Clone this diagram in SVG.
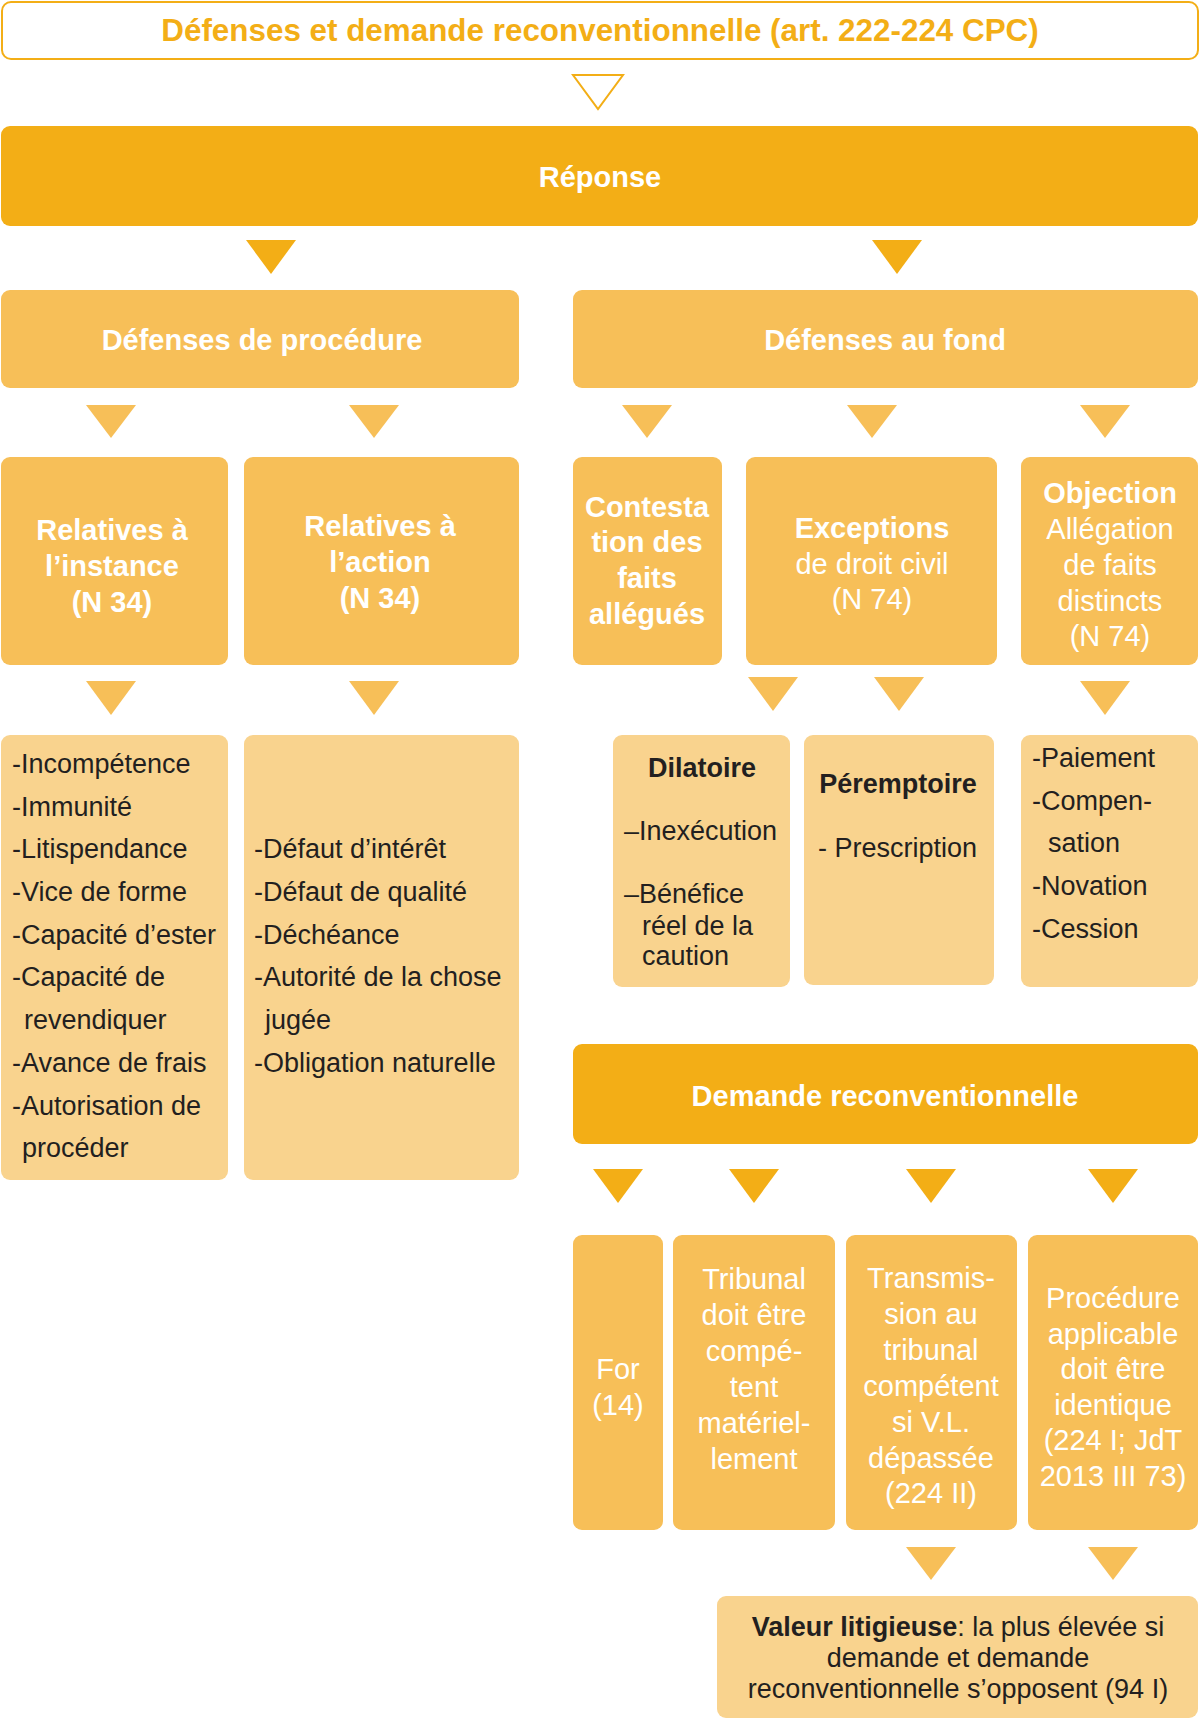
<svg xmlns="http://www.w3.org/2000/svg" width="1200" height="1720" viewBox="0 0 1200 1720">
<style>
text{font-family:"Liberation Sans",Arial,Helvetica,sans-serif}
.dark{fill:#F3AE16}
.mid{fill:#F7BF58}
.light{fill:#F9D38E}
.tdark{fill:#F3AE16}
.tmid{fill:#F7BF58}
.w{fill:#FFFFFF;font-size:29px;text-anchor:middle}
.b{font-weight:bold}
.k{fill:#231F20;font-size:27px}
.c{text-anchor:middle}
</style>
<rect width="1200" height="1720" fill="#FFFFFF"/>
<g id="connectors">
<polygon points="573,75 623,75 598,109" fill="#FFFFFF" stroke="#F3AE16" stroke-width="2"/>
<polygon class="tdark" points="246,240 296,240 271,274"/>
<polygon class="tdark" points="872,240 922,240 897,274"/>
<polygon class="tmid" points="86,405 136,405 111,438"/>
<polygon class="tmid" points="349,405 399,405 374,438"/>
<polygon class="tmid" points="622,405 672,405 647,438"/>
<polygon class="tmid" points="847,405 897,405 872,438"/>
<polygon class="tmid" points="1080,405 1130,405 1105,438"/>
<polygon class="tmid" points="86,681 136,681 111,715"/>
<polygon class="tmid" points="349,681 399,681 374,715"/>
<polygon class="tmid" points="748,677 798,677 773,711"/>
<polygon class="tmid" points="874,677 924,677 899,711"/>
<polygon class="tmid" points="1080,681 1130,681 1105,715"/>
<polygon class="tdark" points="593,1169 643,1169 618,1203"/>
<polygon class="tdark" points="729,1169 779,1169 754,1203"/>
<polygon class="tdark" points="906,1169 956,1169 931,1203"/>
<polygon class="tdark" points="1088,1169 1138,1169 1113,1203"/>
<polygon class="tmid" points="906,1547 956,1547 931,1580"/>
<polygon class="tmid" points="1088,1547 1138,1547 1113,1580"/>
</g>
<g id="title">
<rect x="2" y="2" width="1196" height="57" rx="9" fill="#FFFFFF" stroke="#F3AE16" stroke-width="2"/>
<text x="600" y="41" text-anchor="middle" font-size="31.4" font-weight="bold" fill="#F3AE16">Défenses et demande reconventionnelle (art. 222-224 CPC)</text>
</g>
<g id="reponse">
<rect class="dark" x="1" y="126" width="1197" height="100" rx="9"/>
<text class="w b" x="600" y="187">Réponse</text>
</g>
<g id="defenses-procedure">
<rect class="mid" x="1" y="290" width="518" height="98" rx="9"/>
<text class="w b" x="262" y="350">Défenses de procédure</text>
</g>
<g id="defenses-fond">
<rect class="mid" x="573" y="290" width="625" height="98" rx="9"/>
<text class="w b" x="885" y="350">Défenses au fond</text>
</g>
<g id="relatives-instance">
<rect class="mid" x="1" y="457" width="227" height="208" rx="9"/>
<text class="w b" x="112" y="540">Relatives à</text>
<text class="w b" x="112" y="576">l’instance</text>
<text class="w b" x="112" y="612">(N 34)</text>
</g>
<g id="relatives-action">
<rect class="mid" x="244" y="457" width="275" height="208" rx="9"/>
<text class="w b" x="380" y="536">Relatives à</text>
<text class="w b" x="380" y="572">l’action</text>
<text class="w b" x="380" y="608">(N 34)</text>
</g>
<g id="contestation">
<rect class="mid" x="573" y="457" width="149" height="208" rx="9"/>
<text class="w b" x="647" y="517">Contesta</text>
<text class="w b" x="647" y="552">tion des</text>
<text class="w b" x="647" y="588">faits</text>
<text class="w b" x="647" y="624">allégués</text>
</g>
<g id="exceptions">
<rect class="mid" x="746" y="457" width="251" height="208" rx="9"/>
<text class="w b" x="872" y="538">Exceptions</text>
<text class="w" x="872" y="574">de droit civil</text>
<text class="w" x="872" y="609">(N 74)</text>
</g>
<g id="objection">
<rect class="mid" x="1021" y="457" width="177" height="208" rx="9"/>
<text class="w b" x="1110" y="503">Objection</text>
<text class="w" x="1110" y="539">Allégation</text>
<text class="w" x="1110" y="575">de faits</text>
<text class="w" x="1110" y="611">distincts</text>
<text class="w" x="1110" y="646">(N 74)</text>
</g>
<g id="liste-instance">
<rect class="light" x="1" y="735" width="227" height="445" rx="9"/>
<text class="k" x="12" y="773">-Incompétence</text>
<text class="k" x="12" y="816">-Immunité</text>
<text class="k" x="12" y="858">-Litispendance</text>
<text class="k" x="12" y="901">-Vice de forme</text>
<text class="k" x="12" y="944">-Capacité d’ester</text>
<text class="k" x="12" y="986">-Capacité de</text>
<text class="k" x="24" y="1029">revendiquer</text>
<text class="k" x="12" y="1072">-Avance de frais</text>
<text class="k" x="12" y="1115">-Autorisation de</text>
<text class="k" x="22" y="1157">procéder</text>
</g>
<g id="liste-action">
<rect class="light" x="244" y="735" width="275" height="445" rx="9"/>
<text class="k" x="254" y="858">-Défaut d’intérêt</text>
<text class="k" x="254" y="901">-Défaut de qualité</text>
<text class="k" x="254" y="944">-Déchéance</text>
<text class="k" x="254" y="986">-Autorité de la chose</text>
<text class="k" x="265" y="1029">jugée</text>
<text class="k" x="254" y="1072">-Obligation naturelle</text>
</g>
<g id="dilatoire">
<rect class="light" x="613" y="735" width="177" height="252" rx="9"/>
<text class="k b c" x="702" y="777">Dilatoire</text>
<text class="k" x="624" y="840">–Inexécution</text>
<text class="k" x="624" y="903">–Bénéfice</text>
<text class="k" x="642" y="935">réel de la</text>
<text class="k" x="642" y="965">caution</text>
</g>
<g id="peremptoire">
<rect class="light" x="804" y="735" width="190" height="250" rx="9"/>
<text class="k b c" x="898" y="793">Péremptoire</text>
<text class="k" x="818" y="857">- Prescription</text>
</g>
<g id="liste-objection">
<rect class="light" x="1021" y="735" width="177" height="252" rx="9"/>
<text class="k" x="1032" y="767">-Paiement</text>
<text class="k" x="1032" y="810">-Compen-</text>
<text class="k" x="1048" y="852">sation</text>
<text class="k" x="1032" y="895">-Novation</text>
<text class="k" x="1032" y="938">-Cession</text>
</g>
<g id="demande-reconventionnelle">
<rect class="dark" x="573" y="1044" width="625" height="100" rx="9"/>
<text class="w b" x="885" y="1106">Demande reconventionnelle</text>
</g>
<g id="for">
<rect class="mid" x="573" y="1235" width="90" height="295" rx="9"/>
<text class="w" x="618" y="1379">For</text>
<text class="w" x="618" y="1415">(14)</text>
</g>
<g id="tribunal">
<rect class="mid" x="673" y="1235" width="162" height="295" rx="9"/>
<text class="w" x="754" y="1289">Tribunal</text>
<text class="w" x="754" y="1325">doit être</text>
<text class="w" x="754" y="1361">compé-</text>
<text class="w" x="754" y="1397">tent</text>
<text class="w" x="754" y="1433">matériel-</text>
<text class="w" x="754" y="1469">lement</text>
</g>
<g id="transmission">
<rect class="mid" x="846" y="1235" width="171" height="295" rx="9"/>
<text class="w" x="931" y="1288">Transmis-</text>
<text class="w" x="931" y="1324">sion au</text>
<text class="w" x="931" y="1360">tribunal</text>
<text class="w" x="931" y="1396">compétent</text>
<text class="w" x="931" y="1432">si V.L.</text>
<text class="w" x="931" y="1468">dépassée</text>
<text class="w" x="931" y="1503">(224 II)</text>
</g>
<g id="procedure">
<rect class="mid" x="1028" y="1235" width="170" height="295" rx="9"/>
<text class="w" x="1113" y="1308">Procédure</text>
<text class="w" x="1113" y="1344">applicable</text>
<text class="w" x="1113" y="1379">doit être</text>
<text class="w" x="1113" y="1415">identique</text>
<text class="w" x="1113" y="1450">(224 I; JdT</text>
<text class="w" x="1113" y="1486">2013 III 73)</text>
</g>
<g id="valeur-litigieuse">
<rect class="light" x="717" y="1596" width="481" height="122" rx="9"/>
<text class="k c" x="958" y="1636"><tspan font-weight="bold">Valeur litigieuse</tspan>: la plus élevée si</text>
<text class="k c" x="958" y="1667">demande et demande</text>
<text class="k c" x="958" y="1698">reconventionnelle s’opposent (94 I)</text>
</g>
</svg>
